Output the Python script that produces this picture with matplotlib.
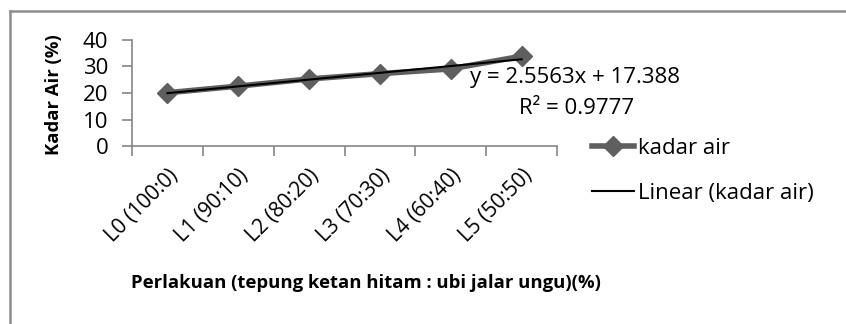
import numpy as np
import matplotlib.pyplot as plt
from matplotlib.lines import Line2D

plt.rcParams['font.family'] = ['Open Sans', 'DejaVu Sans']

categories = ['L0 (100:0)', 'L1 (90:10)', 'L2 (80:20)', 'L3 (70:30)', 'L4 (60:40)', 'L5 (50:50)']
kadar_air = [20.1, 22.6, 25.3, 27.3, 29.1, 33.9]
eq_text = 'y = 2.5563x + 17.388'
r2_text = 'R² = 0.9777'

x = np.arange(1, len(categories) + 1)
slope, intercept = 2.5563, 17.388

W, H = 846, 324
fig = plt.figure(figsize=(W / 100, H / 100), dpi=100)
ax = fig.add_axes([132 / W, 1 - 146 / H, (557 - 132) / W, 106 / H])

ax.plot(x, kadar_air, color='#5f5f5f', lw=4, marker='D', ms=10, label='kadar air')
ax.plot(x, slope * x + intercept, color='black', lw=1.5, label='Linear (kadar air)')

ax.set_xlim(0.5, len(categories) + 0.5)
ax.set_ylim(0, 40)
ax.set_yticks([0, 10, 20, 30, 40])
ax.set_xticks(x)
ax.set_xticklabels(categories, rotation=45, ha='right', rotation_mode='anchor', fontsize=15)
ax.set_xticks(np.arange(0.5, len(categories) + 1), minor=True)
ax.tick_params(axis='x', which='major', length=0, pad=14)
ax.tick_params(axis='x', which='minor', length=7, color='#868686', width=1.2)
ax.tick_params(axis='y', length=7, color='#868686', width=1.2, labelsize=16, pad=10)

for s in ['top', 'right']:
    ax.spines[s].set_visible(False)
for s in ['left', 'bottom']:
    ax.spines[s].set_color('#868686')
    ax.spines[s].set_linewidth(1.2)

fig.text(366 / W, 1 - 283 / H, 'Perlakuan (tepung ketan hitam : ubi jalar ungu)(%)',
         fontsize=13.3, fontweight='bold', ha='center', va='center')
fig.text(54 / W, 1 - 95 / H, 'Kadar Air (%)', fontsize=13.3, fontweight='bold',
         rotation=90, ha='center', va='center')

fig.text(470 / W, 1 - 78 / H, eq_text, fontsize=16, ha='left', va='center')
fig.text(577 / W, 1 - 109 / H, r2_text, fontsize=16, ha='center', va='center')

ax.legend(loc='center left', bbox_to_anchor=(592 / W, 1 - 171 / H), bbox_transform=fig.transFigure,
          frameon=False, fontsize=16, handlelength=1.9, handletextpad=0.15, labelspacing=1.1,
          borderpad=0, borderaxespad=0)

fig.add_artist(Line2D([10 / W, 1], [1 - 11 / H, 1 - 11 / H], transform=fig.transFigure,
                      color='#8c8c8c', lw=1.8))
fig.add_artist(Line2D([10 / W, 10 / W], [0, 1 - 11 / H], transform=fig.transFigure,
                      color='#8c8c8c', lw=1.8))

plt.savefig('out.png', dpi=100)
